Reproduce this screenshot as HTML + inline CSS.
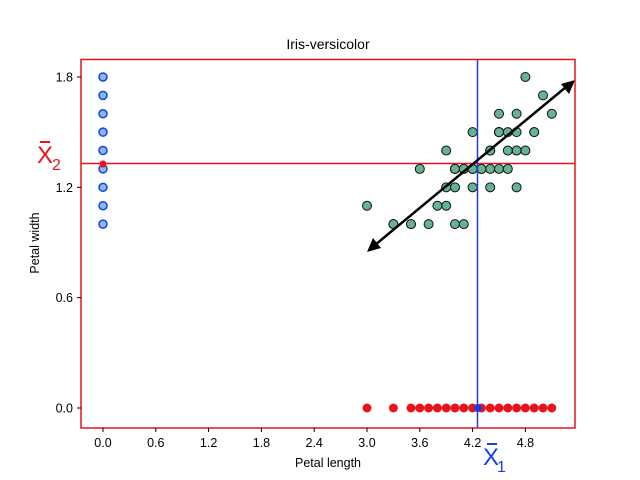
<!DOCTYPE html>
<html><head><meta charset="utf-8"><style>
body{margin:0;background:#fff}
svg{display:block;font-family:"Liberation Sans","DejaVu Sans",sans-serif}
</style></head><body>
<svg id="s" width="640" height="480" viewBox="0 0 640 480" xmlns="http://www.w3.org/2000/svg">
<rect width="640" height="480" fill="#fff"/>
<text x="328" y="49" font-size="14" text-anchor="middle">Iris-versicolor</text>
<g id="pts"></g>
<line x1="81" y1="163.5" x2="575" y2="163.5" stroke="#e8141c" stroke-width="1.5"/>
<line x1="477.5" y1="59" x2="477.5" y2="428" stroke="#1a3fe0" stroke-width="1.5"/>
<line x1="375" y1="245" x2="566" y2="87" stroke="#000" stroke-width="2.5"/>
<polygon points="367,252 373,238 381,248" fill="#000"/>
<polygon points="575,80 569,94 561,84" fill="#000"/>
<rect x="81" y="59.5" width="494" height="368.5" fill="none" stroke="#e8141c" stroke-width="1.5"/>
<g id="ticks" font-size="12.5"></g>
<text x="328" y="467" font-size="12.5" text-anchor="middle">Petal length</text>
<text transform="translate(39,243) rotate(-90)" font-size="12.5" text-anchor="middle">Petal width</text>
<text x="37" y="163" font-size="24" fill="#e8141c">X</text><line x1="40" y1="142" x2="50" y2="142" stroke="#e8141c" stroke-width="2"/>
<text x="52" y="170" font-size="16" fill="#e8141c">2</text>
<text x="483" y="465" font-size="24" fill="#1a3fe0">X</text><line x1="487" y1="444" x2="497" y2="444" stroke="#1a3fe0" stroke-width="2"/>
<text x="497" y="472" font-size="16" fill="#1a3fe0">1</text>
</svg>
<script>
var d=[[4.7,1.4],[4.5,1.5],[4.9,1.5],[4.0,1.3],[4.6,1.5],[4.5,1.3],[4.7,1.6],[3.3,1.0],[4.6,1.3],[3.9,1.4],[3.5,1.0],[4.2,1.5],[4.0,1.0],[4.7,1.4],[3.6,1.3],[4.4,1.4],[4.5,1.5],[4.1,1.0],[4.5,1.5],[3.9,1.1],[4.8,1.8],[4.0,1.3],[4.9,1.5],[4.7,1.2],[4.3,1.3],[4.4,1.4],[4.8,1.4],[5.0,1.7],[4.5,1.5],[3.5,1.0],[3.8,1.1],[3.7,1.0],[3.9,1.2],[5.1,1.6],[4.5,1.5],[4.5,1.6],[4.7,1.5],[4.4,1.3],[4.1,1.3],[4.0,1.3],[4.4,1.2],[4.6,1.4],[4.0,1.2],[3.3,1.0],[4.2,1.3],[4.2,1.2],[4.2,1.3],[4.3,1.3],[3.0,1.1],[4.1,1.3]];
function X(v){return 103+v*88}function Y(v){return 408-v*183.9}
var h='',ns=[3.0,3.3,3.5,3.6,3.7,3.8,3.9,4.0,4.1,4.2,4.3,4.4,4.5,4.6,4.7,4.8,4.9,5.0,5.1];
ns.forEach(function(v){h+='<circle cx="'+X(v)+'" cy="408" r="4.5" fill="#e8141c"/>'});
for(var w=1.0;w<1.85;w+=0.1)h+='<circle cx="103" cy="'+Y(w)+'" r="4" fill="#8ab8f0" stroke="#1a3fe0" stroke-width="1.5"/>';
d.forEach(function(p){h+='<circle cx="'+X(p[0])+'" cy="'+Y(p[1])+'" r="4.5" fill="#66b394" stroke="#111" stroke-width="1"/>'});
h+='<circle cx="103" cy="164" r="3.5" fill="#e8141c"/><circle cx="478" cy="408" r="4" fill="#1a3fe0"/>';
document.getElementById('pts').innerHTML=h;
var t='';
['0.0','0.6','1.2','1.8','2.4','3.0','3.6','4.2','4.8'].forEach(function(s){var x=X(+s);t+='<line x1="'+x+'" y1="428" x2="'+x+'" y2="432" stroke="#000"/><text x="'+x+'" y="447" text-anchor="middle">'+s+'</text>'});
['0.0','0.6','1.2','1.8'].forEach(function(s){var y=Y(+s);t+='<line x1="77" y1="'+y+'" x2="81" y2="'+y+'" stroke="#000"/><text x="73" y="'+(y+4.5)+'" text-anchor="end">'+s+'</text>'});
document.getElementById('ticks').innerHTML=t;
</script>
</body></html>
